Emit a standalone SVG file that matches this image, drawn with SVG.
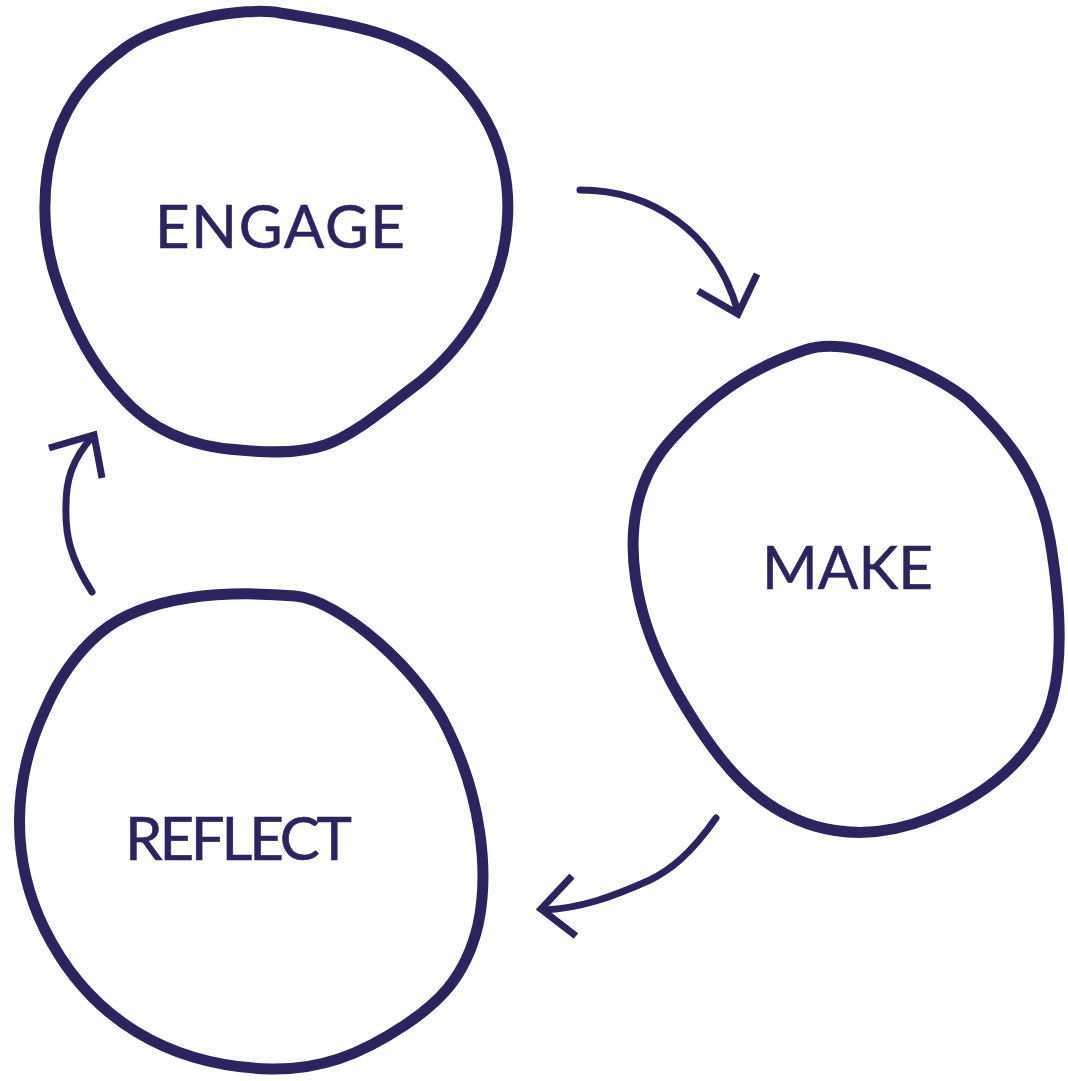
<svg xmlns="http://www.w3.org/2000/svg" width="1068" height="1081" viewBox="0 0 1068 1081">
<style>
.blob{fill:none;stroke:#2a2561;stroke-width:11;stroke-linejoin:round}
.arc{fill:none;stroke:#2a2561;stroke-width:7;stroke-linecap:round}
.head{fill:none;stroke:#2a2561;stroke-width:7;stroke-linecap:butt;stroke-linejoin:miter}
.lbl{font-family:Lato,"Liberation Sans",sans-serif;font-size:60px;fill:#2a2561;stroke:#2a2561;stroke-width:0.6;font-weight:normal}
</style>
<rect width="1068" height="1081" fill="#ffffff"/>
<g id="engage">
<path class="blob" d="M 280,13 C 320,20 400,28 445,68 C 495,115 512,170 507,225 C 502,290 465,345 420,382 C 385,408 355,435 325,445 C 295,455 260,452 240,450 C 190,447 150,430 120,395 C 90,362 70,320 58,285 C 40,235 42,180 55,140 C 70,95 95,70 125,48 C 160,22 245,6 280,13 Z"/>
<text class="lbl" x="155" y="248" textLength="250" lengthAdjust="spacing">ENGAGE</text>
</g>
<g id="make">
<path class="blob" d="M 805,350 C 850,335 930,370 968,400 C 1010,440 1040,480 1050,540 C 1060,600 1063,660 1052,700 C 1040,745 1000,790 930,818 C 870,842 800,840 740,780 C 710,750 680,700 665,670 C 635,610 625,545 640,495 C 650,460 670,440 690,420 C 725,386 760,365 805,350 Z"/>
<text class="lbl" x="762" y="589" textLength="171" lengthAdjust="spacing">MAKE</text>
</g>
<g id="reflect">
<path class="blob" d="M 295,596 C 340,600 420,670 448,730 C 480,795 490,870 478,925 C 465,980 435,1005 405,1025 C 360,1055 320,1070 270,1069 C 170,1066 90,1020 45,930 C 10,860 12,780 45,710 C 60,675 80,650 100,633 C 145,595 225,590 295,596 Z"/>
<text class="lbl" x="125" y="860" textLength="227" lengthAdjust="spacing">REFLECT</text>
</g>
<g id="connectors">
<path class="arc" d="M 580,190 C 650,190 715,230 738,312"/>
<polyline class="head" points="698,291 738,314 757,274"/>
<path class="arc" d="M 716,818 C 690,855 670,870 650,880 C 610,898 580,908 545,910"/>
<polyline class="head" points="572,876 541,909 576,936"/>
<path class="arc" d="M 92,592 C 70,558 65,535 66,505 C 66,480 72,460 92,437"/>
<polyline class="head" points="49,448 94,435 102,478"/>
</g>
</svg>
